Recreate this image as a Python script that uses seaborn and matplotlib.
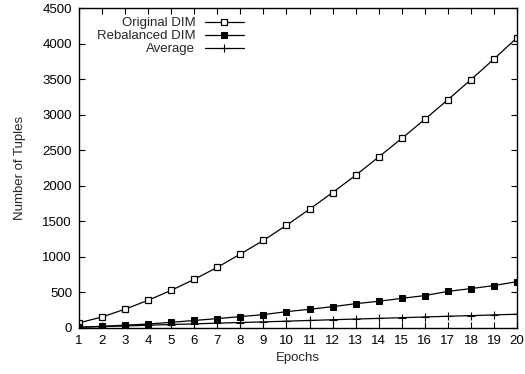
import matplotlib
matplotlib.use("Agg")
import matplotlib.pyplot as plt
import seaborn as sns
import pandas as pd

epochs = list(range(1, 21))
original_dim = [72, 155, 265, 390, 530, 685, 853, 1040, 1232, 1445,
                1670, 1905, 2147, 2405, 2666, 2935, 3210, 3492, 3783, 4082]
rebalanced_dim = [10, 24, 40, 56, 80, 106, 132, 160, 188, 230,
                  263, 300, 342, 376, 417, 456, 515, 554, 597, 652]
average = [10, 20, 29, 39, 49, 58, 68, 77, 86, 96,
           106, 116, 126, 135, 145, 155, 165, 174, 184, 194]
y_ticks = list(range(0, 4501, 500))

sns.set_style("ticks")
plt.rcParams["font.family"] = ["Liberation Sans", "DejaVu Sans"]

fig = plt.figure(figsize=(5.25, 3.74), dpi=100)
ax = fig.add_axes([0.1505, 0.123, 0.8343, 0.8556])

df = pd.DataFrame({"Epochs": epochs, "Original DIM": original_dim,
                   "Rebalanced DIM": rebalanced_dim, "Average": average})

styles = [
    ("Original DIM", dict(marker="s", markersize=4.2, markerfacecolor="white",
                          markeredgecolor="black", markeredgewidth=0.9)),
    ("Rebalanced DIM", dict(marker="s", markersize=4.2, markerfacecolor="black",
                            markeredgecolor="black")),
    ("Average", dict(marker="+", markersize=6, markeredgecolor="black",
                     markeredgewidth=0.8)),
]
for name, kw in styles:
    sns.lineplot(data=df, x="Epochs", y=name, ax=ax, color="black",
                 linewidth=0.9, label=name, **kw)

fs = 9.5
ax.set_xlim(1, 20)
ax.set_ylim(0, 4500)
ax.set_xticks(epochs)
ax.set_yticks(y_ticks)
ax.tick_params(direction="in", length=4, width=0.8, labelsize=fs,
               top=True, right=True, colors="black", pad=5)
ax.tick_params(axis="x", pad=5)
for s in ax.spines.values():
    s.set_linewidth(1.0)
    s.set_color("black")
ax.set_xlabel("Epochs", fontsize=fs, labelpad=4)
ax.set_ylabel("Number of Tuples", fontsize=fs, labelpad=12)

ax.legend(loc="upper right", bbox_to_anchor=(0.398, 1.0), frameon=False,
          markerfirst=False, fontsize=fs, handlelength=3.0,
          handletextpad=0.7, labelspacing=0.05, borderpad=0.2)

fig.savefig("out.png", dpi=100)
